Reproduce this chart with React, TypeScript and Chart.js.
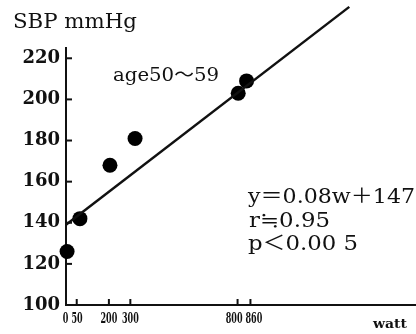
import React, { useEffect, useRef } from "react";
import { Chart, registerables } from "chart.js";
Chart.register(...registerables);

const wattValues = [5, 65, 205, 322, 803, 842];
const sbpValues = [126, 142, 168, 181, 203, 209];
const fitWatt = [0, 1321];
const fitSbp = [139, 245];
const xTickValues = [0, 50, 200, 300, 800, 860];
const yTickValues = [100, 120, 140, 160, 180, 200, 220];
const titleText = "SBP mmHg";
const groupText = "age50～59";
const statsLines = ["y＝0.08w＋147", "r≒0.95", "p＜0.00 5"];
const xUnitText = "watt";

const serif = '"DejaVu Serif", "Noto Sans CJK JP", serif';

function fitText(ctx: CanvasRenderingContext2D, text: string, x: number, y: number, w: number, font: string) {
  ctx.save();
  ctx.font = font;
  const m = ctx.measureText(text).width || 1;
  ctx.translate(x, y);
  ctx.scale(w / m, 1);
  ctx.fillText(text, 0, 0);
  ctx.restore();
}

export default function App() {
  const ref = useRef<HTMLCanvasElement>(null);
  useEffect(() => {
    const canvas = ref.current!;
    const annot = {
      id: "annot",
      afterDraw(chart: any) {
        const ctx = chart.ctx as CanvasRenderingContext2D;
        const xs = chart.scales.x;
        const ys = chart.scales.y;
        ctx.save();
        ctx.strokeStyle = "#111";
        ctx.lineWidth = 2;
        yTickValues.forEach((v) => {
          const py = ys.getPixelForValue(v);
          ctx.beginPath();
          ctx.moveTo(xs.left, py);
          ctx.lineTo(xs.left + 6, py);
          ctx.stroke();
        });
        xTickValues.forEach((v) => {
          const px = xs.getPixelForValue(v);
          ctx.beginPath();
          ctx.moveTo(px, ys.bottom);
          ctx.lineTo(px, ys.bottom - 6);
          ctx.stroke();
        });
        // x tick labels: centred on ticks, pushed apart where they would overlap
        ctx.fillStyle = "#111";
        ctx.textBaseline = "alphabetic";
        ctx.textAlign = "left";
        const digitW = 5.6;
        const items = xTickValues.map((v) => {
          const t = String(v);
          return { t, c: xs.getPixelForValue(v), w: t.length * digitW };
        });
        for (let i = 1; i < items.length; i++) {
          const a = items[i - 1];
          const b = items[i];
          const need = (a.w + b.w) / 2 + 3;
          const gap = b.c - a.c;
          if (gap < need) {
            const d = (need - gap) / 2;
            a.c -= d;
            b.c += d;
          }
        }
        items.forEach((it) => {
          fitText(ctx, it.t, it.c - it.w / 2, 323, it.w, 'bold 14px "DejaVu Serif", serif');
        });
        fitText(ctx, titleText, 13, 28, 124, `20px ${serif}`);
        fitText(ctx, groupText, 113, 81, 106, `18px ${serif}`);
        fitText(ctx, statsLines[0], 248, 203, 167, `20px ${serif}`);
        fitText(ctx, statsLines[1], 249, 227, 81, `20px ${serif}`);
        fitText(ctx, statsLines[2], 248, 250, 110, `20px ${serif}`);
        fitText(ctx, xUnitText, 373, 328, 34, `bold 13px ${serif}`);
        ctx.restore();
      },
    };
    const chart = new Chart(canvas, {
      type: "scatter",
      data: {
        datasets: [
          {
            data: fitWatt.map((x, i) => ({ x, y: fitSbp[i] })),
            showLine: true,
            borderColor: "#111",
            borderWidth: 2.5,
            pointRadius: 0,
            clip: false,
          } as any,
          {
            data: wattValues.map((x, i) => ({ x, y: sbpValues[i] })),
            pointRadius: 7.5,
            pointHoverRadius: 7.5,
            backgroundColor: "#000",
            borderWidth: 0,
            clip: false,
          } as any,
        ],
      },
      options: {
        responsive: false,
        animation: false,
        events: [],
        layout: { autoPadding: false, padding: { top: 48, right: 0, bottom: 0, left: 0 } },
        plugins: { legend: { display: false }, tooltip: { enabled: false } },
        scales: {
          x: {
            type: "linear",
            min: 0,
            max: 1632,
            afterBuildTicks: (s: any) => {
              s.ticks = xTickValues.map((v) => ({ value: v }));
            },
            afterFit: (s: any) => {
              s.height = 29;
            },
            grid: { display: false, drawTicks: false },
            border: { display: true, color: "#111", width: 2 },
            ticks: { display: false },
          },
          y: {
            type: "linear",
            min: 100,
            max: 225,
            afterBuildTicks: (s: any) => {
              s.ticks = yTickValues.map((v) => ({ value: v }));
            },
            afterFit: (s: any) => {
              s.width = 66;
            },
            grid: { display: false, drawTicks: false },
            border: { display: true, color: "#111", width: 2 },
            ticks: {
              font: { family: '"DejaVu Serif"', size: 18, weight: "bold" },
              color: "#111",
              padding: 6,
              callback: (v: any) => String(v),
            },
          },
        },
      },
      plugins: [annot],
    } as any);
    return () => chart.destroy();
  }, []);
  return (
    <div style={{ position: "fixed", left: 0, top: 0, width: 416, height: 334, background: "#fff" }}>
      <canvas ref={ref} width={416} height={334} />
    </div>
  );
}
